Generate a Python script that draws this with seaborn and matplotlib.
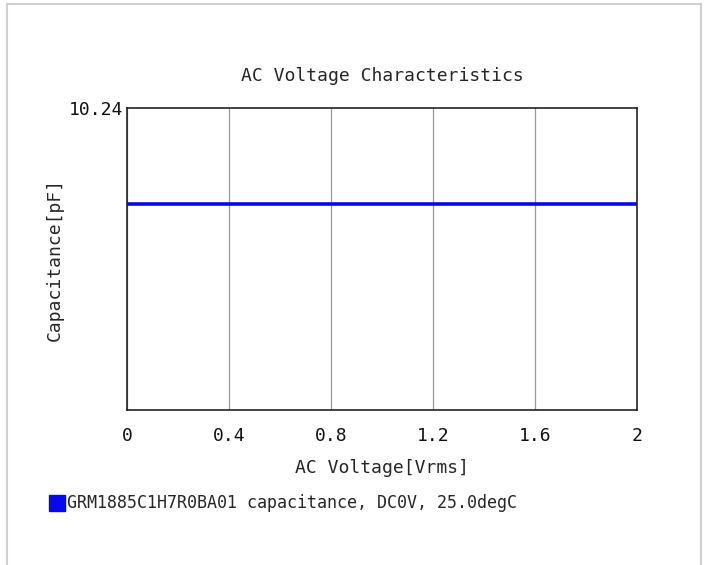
import matplotlib
matplotlib.use("Agg")
import matplotlib.pyplot as plt
import matplotlib.patches as mpatches
import seaborn as sns
import pandas as pd

# AC voltage sweep and measured capacitance
ac_voltage = [0.0, 0.2, 0.4, 0.6, 0.8, 1.0, 1.2, 1.4, 1.6, 1.8, 2.0]
capacitance = [7.0, 7.0, 7.0, 7.0, 7.0, 7.0, 7.0, 7.0, 7.0, 7.0, 7.0]
x_ticks = [0, 0.4, 0.8, 1.2, 1.6, 2]
x_tick_labels = ["0", "0.4", "0.8", "1.2", "1.6", "2"]
y_max = 10.24
series_label = "GRM1885C1H7R0BA01 capacitance, DC0V, 25.0degC"

data = pd.DataFrame({"voltage": ac_voltage, "cap": capacitance})

sns.set_style("white")
plt.rcParams["font.family"] = ["DejaVu Sans Mono", "DejaVu Sans"]

line_color = "#0808f0"

fig = plt.figure(figsize=(7.07, 5.65), dpi=100)
ax = fig.add_axes([0.1796, 0.2743, 0.7214, 0.5345])

sns.lineplot(data=data, x="voltage", y="cap", color=line_color, linewidth=2.6, ax=ax)

ax.set_xlim(0, 2)
ax.set_ylim(0, y_max)
ax.set_xticks(x_ticks)
ax.set_xticklabels(x_tick_labels)
ax.set_yticks([y_max])
ax.set_yticklabels(["10.24"])
ax.tick_params(axis="both", length=0, labelsize=13, colors="#111111")
ax.tick_params(axis="x", pad=12)
ax.tick_params(axis="y", pad=3)
ax.xaxis.grid(True, color="#999999", linewidth=0.9)
ax.yaxis.grid(False)
for s in ax.spines.values():
    s.set_color("#222222")
    s.set_linewidth(1.2)

ax.set_title("AC Voltage Characteristics", fontsize=13, y=1.09, pad=0)
ax.set_xlabel("AC Voltage[Vrms]", fontsize=13)
ax.set_ylabel("Capacitance[pF]", fontsize=13)
ax.xaxis.set_label_coords(0.5, -0.163)
ax.yaxis.set_label_coords(-0.124, 0.5)

# legend drawn below the axes
fig.patches.append(mpatches.Rectangle((49 / 707, 1 - 511 / 565), 16 / 707, 16 / 565,
                                      transform=fig.transFigure, color=line_color))
fig.text(67 / 707, 1 - 503 / 565, series_label, fontsize=12, va="center", ha="left")

# outer light gray frame
fig.patches.append(mpatches.Rectangle((7 / 707, -0.05), 694 / 707, 1.05 - 4 / 565,
                                      transform=fig.transFigure, fill=False,
                                      edgecolor="#d0d0d0", linewidth=1.5))

fig.savefig("out.png", dpi=100)
